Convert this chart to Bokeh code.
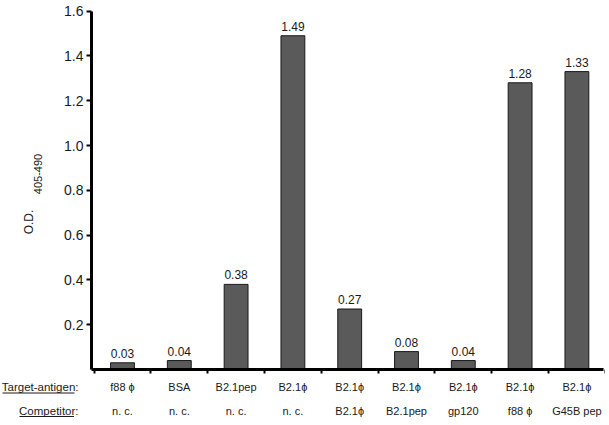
import math
from bokeh.plotting import figure
from bokeh.models import Range1d, FixedTicker, PrintfTickFormatter, ColumnDataSource
from bokeh.core.properties import value
from bokeh.embed import file_html
from bokeh.resources import INLINE

# ---- data ----
target_antigen = ["f88 \u03d5", "BSA", "B2.1pep", "B2.1\u03d5", "B2.1\u03d5",
                  "B2.1\u03d5", "B2.1\u03d5", "B2.1\u03d5", "B2.1\u03d5"]
competitor = ["n. c.", "n. c.", "n. c.", "n. c.", "B2.1\u03d5",
              "B2.1pep", "gp120", "f88 \u03d5", "G45B pep"]
od_values = [0.03, 0.04, 0.38, 1.49, 0.27, 0.08, 0.04, 1.28, 1.33]
value_labels = ["0.03", "0.04", "0.38", "1.49", "0.27", "0.08", "0.04", "1.28", "1.33"]
y_ticks = [0.2, 0.4, 0.6, 0.8, 1.0, 1.2, 1.4, 1.6]

FONT = "Liberation Sans"
TXT = "#1a1a1a"

W, H = 605, 421
OX, OY = 2, 2          # observed page offset of the canvas

def px_to_x(px):
    return (px - 124.0) / 56.8

def py_to_y(py):
    return (371.0 - py) / 224.0

xs = list(range(len(od_values)))
src = ColumnDataSource(dict(x=xs, top=od_values, lab=value_labels))

p = figure(width=W, height=H, output_backend="svg", toolbar_location=None,
           x_range=Range1d(px_to_x(OX), px_to_x(OX + W)),
           y_range=Range1d(py_to_y(OY + H), py_to_y(OY)),
           min_border=0)
p.outline_line_color = None
p.grid.visible = False

p.vbar(x="x", top="top", width=0.42, source=src,
       fill_color="#5a5a5a", line_color="#1a1a1a", line_width=1)
p.text(x="x", y="top", text="lab", source=src, y_offset=-5,
       text_align="center", text_baseline="bottom",
       text_font=value(FONT), text_font_size="12px", text_color=TXT)

x_left = px_to_x(93)
x_right = px_to_x(605)

# y axis
ya = p.yaxis[0]
ya.fixed_location = x_left
ya.bounds = (0, 1.6)
ya.ticker = FixedTicker(ticks=y_ticks)
ya.formatter = PrintfTickFormatter(format="%.1f")
ya.axis_line_width = 3
ya.axis_line_color = "black"
ya.major_tick_out = 5
ya.major_tick_in = 0
ya.major_tick_line_width = 2
ya.minor_tick_line_color = None
ya.major_label_standoff = 3
ya.major_label_text_font = FONT
ya.major_label_text_font_size = "14px"
ya.major_label_text_color = TXT

# x axis
xa = p.xaxis[0]
xa.fixed_location = 0
xa.bounds = (x_left, x_right)
xa.ticker = FixedTicker(ticks=[k - 0.5 for k in range(10)])
xa.axis_line_width = 3
xa.axis_line_color = "black"
xa.major_tick_out = 4
xa.major_tick_in = 0
xa.major_tick_line_width = 2
xa.minor_tick_line_color = None
xa.major_label_text_font_size = "0px"
xa.major_label_text_alpha = 0

row1_y = py_to_y(388)
row2_y = py_to_y(412)
n = len(xs)
p.text(x=xs, y=[row1_y] * n, text=target_antigen, text_align="center",
       text_baseline="middle", text_font=value(FONT), text_font_size="11px",
       text_color=TXT)
p.text(x=xs, y=[row2_y] * n, text=competitor, text_align="center",
       text_baseline="middle", text_font=value(FONT), text_font_size="11px",
       text_color=TXT)
lx = px_to_x(80)
p.text(x=[lx, lx], y=[row1_y, row2_y], text=["Target-antigen:", "Competitor:"],
       text_align="right", text_baseline="middle", text_font=value(FONT),
       text_font_size="11.5px", text_color=TXT)
# underlines
p.segment(x0=[px_to_x(4), px_to_x(21)], x1=[px_to_x(76), px_to_x(75.5)],
          y0=[py_to_y(394.5), py_to_y(418)], y1=[py_to_y(394.5), py_to_y(418)],
          line_color=TXT, line_width=1)

# y axis title: O.D. with subscript 405-490
p.text(x=[px_to_x(30)], y=[py_to_y(223.5)], text=["O.D."], angle=math.pi / 2,
       text_align="center", text_baseline="middle", text_font=value(FONT),
       text_font_size="12px", text_color=TXT)
p.text(x=[px_to_x(39)], y=[py_to_y(175.5)], text=["405-490"], angle=math.pi / 2,
       text_align="center", text_baseline="middle", text_font=value(FONT),
       text_font_size="11px", text_color=TXT)

open("out.html", "w").write(file_html(p, INLINE))
